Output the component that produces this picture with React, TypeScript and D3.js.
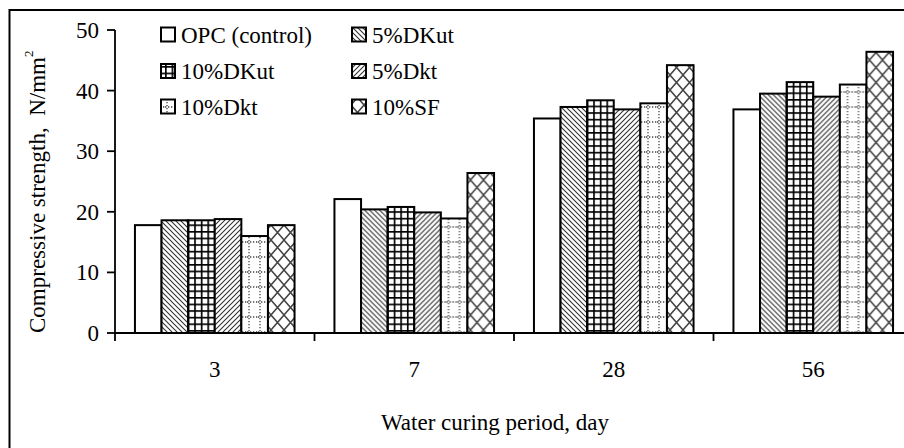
import React from 'react';
import * as d3 from 'd3';

// Curing periods (days) and mix names
const categories = ['3', '7', '28', '56'];
const seriesNames = ['OPC (control)', '5%DKut', '10%DKut', '5%Dkt', '10%Dkt', '10%SF'];
const seriesKeys = ['opc', 'dkut5', 'dkut10', 'dkt5', 'dkt10', 'sf10'];

// Compressive strength, N/mm² per curing period
const opc = [17.8, 22.1, 35.4, 36.9];
const dkut5 = [18.6, 20.4, 37.3, 39.5];
const dkut10 = [18.6, 20.8, 38.4, 41.4];
const dkt5 = [18.8, 19.9, 36.9, 39.0];
const dkt10 = [16.0, 18.9, 37.9, 41.0];
const sf10 = [17.8, 26.4, 44.2, 46.4];

const yTicks = [0, 10, 20, 30, 40, 50];

const seriesValues: Record<string, number[]> = { opc, dkut5, dkut10, dkt5, dkt10, sf10 };

const FONT = '"Liberation Serif", "Times New Roman", serif';
const FS = 23;

function Patterns() {
  return (
    <defs>
      <pattern id="p-opc" patternUnits="userSpaceOnUse" width={4} height={4}>
        <rect width={4} height={4} fill="#fff" />
      </pattern>
      <pattern id="p-dkut5" patternUnits="userSpaceOnUse" width={5} height={5}>
        <rect width={5} height={5} fill="#fff" />
        <path d="M-1,-1 L6,6 M-1,4 L1,6 M4,-1 L6,1" stroke="#333" strokeWidth={1.1} />
      </pattern>
      <pattern id="p-dkut10" patternUnits="userSpaceOnUse" width={6.6} height={6.6}>
        <rect width={6.6} height={6.6} fill="#fff" />
        <path d="M0.8,0 V6.6 M0,0.8 H6.6" stroke="#000" strokeWidth={1.7} />
      </pattern>
      <pattern id="p-dkt5" patternUnits="userSpaceOnUse" width={5} height={5}>
        <rect width={5} height={5} fill="#fff" />
        <path d="M-1,6 L6,-1 M-1,1 L1,-1 M4,6 L6,4" stroke="#333" strokeWidth={1.1} />
      </pattern>
      <pattern id="p-dkt10" patternUnits="userSpaceOnUse" width={11} height={15}>
        <rect width={11} height={15} fill="#fff" />
        <path d="M2,0 V15 M0,2 H11" stroke="#444" strokeWidth={1.3} strokeDasharray="1.3,1.7" />
      </pattern>
      <pattern id="p-sf10" patternUnits="userSpaceOnUse" width={13} height={15}>
        <rect width={13} height={15} fill="#fff" />
        <path d="M0,0 L13,15 M13,0 L0,15" stroke="#444" strokeWidth={1.5} />
      </pattern>
    </defs>
  );
}

export default function App() {
  const width = 904;
  const height = 448;
  const plotLeft = 115;
  const plotTop = 30;
  const plotBottom = 333;

  const y = d3.scaleLinear().domain([0, 50]).range([plotBottom, plotTop]);
  const x0 = d3.scaleBand<string>().domain(categories).range([plotLeft, plotLeft + 199.5 * 4]).padding(0);
  const bw = x0.bandwidth();
  const x1 = d3.scaleBand<string>().domain(seriesKeys).range([bw * 0.1, bw * 0.9]).padding(0);

  const boundaries = categories.map((c) => x0(c) as number);

  const legendCols = [161, 352];
  const legendRows = [34.5, 71, 106.5];

  return (
    <svg
      width={width}
      height={height}
      style={{ position: 'absolute', left: 0, top: 0, background: '#fff' }}
      fontFamily={FONT}
    >
      <Patterns />
      <rect x={0} y={0} width={width} height={height} fill="#fff" />
      {/* outer frame */}
      <rect x={9.5} y={10} width={width + 10} height={height + 10} fill="none" stroke="#000" strokeWidth={2} />

      {/* bars */}
      {categories.map((c, ci) => (
        <g key={c} transform={`translate(${x0(c)},0)`}>
          {seriesKeys.map((k) => {
            const v = seriesValues[k][ci];
            return (
              <rect
                key={k}
                x={x1(k)}
                y={y(v)}
                width={x1.bandwidth()}
                height={y(0) - y(v)}
                fill={`url(#p-${k})`}
                stroke="#000"
                strokeWidth={2}
              />
            );
          })}
        </g>
      ))}

      {/* y axis */}
      <line x1={plotLeft} x2={plotLeft} y1={plotTop} y2={plotBottom} stroke="#000" strokeWidth={1.8} />
      {yTicks.map((t) => (
        <g key={t}>
          <line x1={plotLeft - 8} x2={plotLeft} y1={y(t)} y2={y(t)} stroke="#000" strokeWidth={1.8} />
          <text x={plotLeft - 16} y={y(t)} dy="0.35em" textAnchor="end" fontSize={FS} fill="#000">
            {t}
          </text>
        </g>
      ))}

      {/* x axis */}
      <line x1={plotLeft} x2={width + 20} y1={plotBottom} y2={plotBottom} stroke="#000" strokeWidth={1.8} />
      {boundaries.map((b, i) => (
        <line key={i} x1={b} x2={b} y1={plotBottom} y2={plotBottom + 8} stroke="#000" strokeWidth={1.8} />
      ))}
      {categories.map((c) => (
        <text key={c} x={(x0(c) as number) + bw / 2} y={377} textAnchor="middle" fontSize={FS} fill="#000">
          {c}
        </text>
      ))}

      {/* axis titles */}
      <text x={495} y={430} textAnchor="middle" fontSize={FS} fill="#000">
        Water curing period, day
      </text>
      <text
        transform={`translate(45,${plotBottom}) rotate(-90)`}
        textAnchor="start"
        fontSize={FS}
        fill="#000"
        style={{ whiteSpace: 'pre' }}
      >
        {'Compressive strength,  N/mm'}
        <tspan fontSize={13} dy={-12}>2</tspan>
      </text>

      {/* legend */}
      {seriesKeys.map((k, i) => {
        const col = i % 2;
        const row = Math.floor(i / 2);
        const lx = legendCols[col];
        const ly = legendRows[row];
        return (
          <g key={k}>
            <rect x={lx} y={ly - 7} width={14} height={14} fill={`url(#p-${k})`} stroke="#000" strokeWidth={2} />
            <text x={lx + 20} y={ly} dy="0.35em" fontSize={FS} fill="#000">
              {seriesNames[i]}
            </text>
          </g>
        );
      })}
    </svg>
  );
}
